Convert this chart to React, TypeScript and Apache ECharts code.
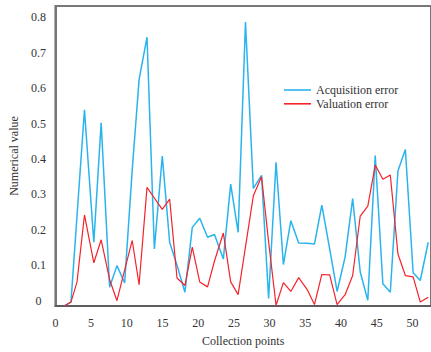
import React, { useEffect, useRef } from "react";
import * as echarts from "echarts";

// x positions of the collection points
const xPoints = [
  1.27, 2.18, 3.03, 4.07, 5.38, 6.41, 7.59, 8.62, 9.7, 10.76, 11.72, 12.83, 13.86, 14.97, 16.0,
  17.03, 18.14, 19.17, 20.21, 21.31, 22.28, 23.52, 24.55, 25.59, 26.62, 27.72, 28.87, 29.86,
  30.9, 31.93, 32.97, 34.07, 35.24, 36.28, 37.31, 38.41, 39.45, 40.57, 41.63, 42.69, 43.75,
  44.79, 45.86, 46.9, 47.97, 49.01, 50.1, 51.1, 52.21,
];

const acquisitionError = [
  -0.014, -0.004, 0.24, 0.539, 0.165, 0.502, 0.038, 0.099, 0.05, 0.37, 0.624, 0.744, 0.146,
  0.408, 0.165, 0.1, 0.024, 0.207, 0.233, 0.179, 0.187, 0.118, 0.329, 0.193, 0.787, 0.317,
  0.354, 0.006, 0.391, 0.102, 0.226, 0.163, 0.162, 0.16, 0.27, 0.146, 0.026, 0.123, 0.288,
  0.081, 0.001, 0.41, 0.048, 0.024, 0.366, 0.427, 0.079, 0.057, 0.165,
];

const valuationError = [
  -0.015, -0.004, 0.053, 0.242, 0.107, 0.172, 0.06, 0.0, 0.087, 0.17, 0.045, 0.32, 0.29, 0.258,
  0.287, 0.064, 0.043, 0.151, 0.053, 0.039, 0.112, 0.191, 0.053, 0.017, 0.152, 0.296, 0.35,
  0.166, -0.013, 0.051, 0.026, 0.065, 0.032, -0.011, 0.074, 0.073, -0.011, 0.017, 0.071, 0.239,
  0.267, 0.383, 0.343, 0.355, 0.132, 0.071, 0.067, -0.004, 0.01,
];

const seriesNames = ["Acquisition error", "Valuation error"];

const FONT = "'Liberation Serif', 'Times New Roman', serif";
const BLUE = "#2ab4ee";
const RED = "#f5222a";

export default function App() {
  const ref = useRef<HTMLDivElement>(null);
  useEffect(() => {
    if (!ref.current) return;
    const chart = echarts.init(ref.current, null, { renderer: "svg" });
    const pair = (ys: number[]) => xPoints.map((x, i) => [x, ys[i]]);
    chart.setOption({
      animation: false,
      backgroundColor: "#fff",
      textStyle: { fontFamily: FONT },
      grid: {
        left: 52.5,
        right: -3,
        top: 6,
        bottom: 45,
        show: true,
        borderColor: "#777",
        borderWidth: 2,
        backgroundColor: "transparent",
      },
      legend: {
        orient: "vertical",
        left: 284,
        top: 84,
        padding: 0,
        icon: "rect",
        itemWidth: 27,
        itemHeight: 1.6,
        itemGap: 1.8,
        textStyle: { fontFamily: FONT, fontSize: 12, color: "#333" },
        data: [
          { name: seriesNames[0], itemStyle: { color: BLUE } },
          { name: seriesNames[1], itemStyle: { color: RED } },
        ],
      },
      xAxis: {
        type: "value",
        min: 0,
        max: 52.6,
        interval: 5,
        name: "Collection points",
        nameLocation: "middle",
        nameGap: 29,
        nameTextStyle: { fontFamily: FONT, fontSize: 12, color: "#333" },
        axisLine: { show: true, onZero: false, lineStyle: { color: "#555", width: 1.5 } },
        axisTick: { show: false },
        splitLine: { show: false },
        axisLabel: {
          fontFamily: FONT,
          fontSize: 12,
          color: "#333",
          margin: 11,
          showMaxLabel: false,
          formatter: (v: number) => (Math.abs(v / 5 - Math.round(v / 5)) < 1e-6 ? String(Math.round(v)) : ""),
        },
      },
      yAxis: {
        type: "value",
        min: -0.015,
        max: 0.832,
        splitNumber: 8,
        name: "Numerical value",
        nameLocation: "middle",
        nameGap: 31,
        nameTextStyle: { fontFamily: FONT, fontSize: 12, color: "#333" },
        axisLine: { show: true, onZero: false, lineStyle: { color: "#777", width: 2 } },
        axisTick: { show: false },
        splitLine: { show: false },
        axisLabel: {
          fontFamily: FONT,
          fontSize: 12,
          color: "#333",
          align: "center",
          margin: 17,
          formatter: (v: number) => {
            const r = Math.round(v * 10);
            if (Math.abs(v * 10 - r) > 1e-6) return "";
            return r === 0 ? "0" : (r / 10).toFixed(1);
          },
        },
      },
      series: [
        {
          name: seriesNames[0],
          type: "line",
          data: pair(acquisitionError),
          symbol: "none",
          lineStyle: { color: BLUE, width: 1.5 },
          itemStyle: { color: BLUE },
          z: 2,
        },
        {
          name: seriesNames[1],
          type: "line",
          data: pair(valuationError),
          symbol: "none",
          lineStyle: { color: RED, width: 1.2 },
          itemStyle: { color: RED },
          z: 3,
        },
      ],
    });
    return () => chart.dispose();
  }, []);
  return <div ref={ref} style={{ width: 431, height: 352, position: "absolute", left: 0, top: 0 }} />;
}
